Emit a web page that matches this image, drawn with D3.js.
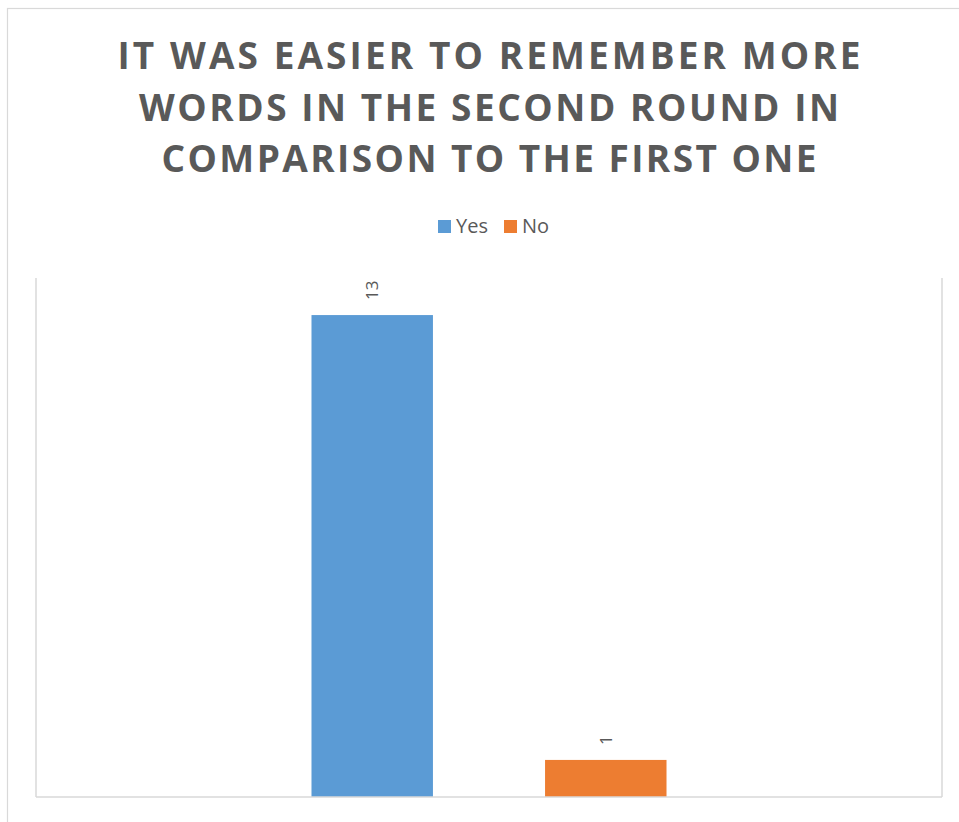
<!DOCTYPE html>
<html>
<head>
<meta charset="utf-8">
<script src="https://cdn.jsdelivr.net/npm/d3@7"></script>
<style>
  html, body { margin: 0; padding: 0; background: #fff; }
  svg { display: block; }
</style>
</head>
<body>
<svg id="chart" width="959" height="822"></svg>
<script>
// Survey answers: one question, two responses
const titleLines = [
  "IT WAS EASIER TO REMEMBER MORE",
  "WORDS IN THE SECOND ROUND IN",
  "COMPARISON TO THE FIRST ONE"
];
const categories = ["Q"];
const seriesNames = ["Yes", "No"];
const seriesValues = [13, 1];
const seriesColors = ["#5B9BD5", "#ED7D31"];
const yDomain = [0, 14];

const svg = d3.select("#chart");
const textColor = "#595959";
const lineColor = "#d9d9d9";
const font = "'Open Sans', 'Liberation Sans', sans-serif";

// outer chart frame (runs off the bottom/right edges)
svg.append("rect")
  .attr("x", 7.5).attr("y", 8.5)
  .attr("width", 960).attr("height", 830)
  .attr("fill", "#fff")
  .attr("stroke", lineColor).attr("stroke-width", 1.2);

// title
const titleWidths = [743, 700, 655];
const titleBase = [69, 121, 172];
svg.append("g").selectAll("text")
  .data(titleLines)
  .join("text")
  .attr("x", 489)
  .attr("y", (d, i) => titleBase[i])
  .attr("text-anchor", "middle")
  .attr("font-family", font)
  .attr("font-weight", 700)
  .attr("font-size", 37)
  .attr("textLength", (d, i) => titleWidths[i])
  .attr("lengthAdjust", "spacing")
  .attr("fill", textColor)
  .text(d => d);

// plot area
const plot = { left: 36, right: 942, top: 278, bottom: 797 };

const y = d3.scaleLinear().domain(yDomain).range([plot.bottom, plot.top]);
const x0 = d3.scaleBand()
  .domain(categories)
  .range([plot.left, plot.right])
  .paddingInner(0)
  .paddingOuter(0.776);
const x1 = d3.scaleBand()
  .domain(seriesNames)
  .range([0, x0.bandwidth()])
  .paddingInner(0.48)
  .paddingOuter(0);
const color = d3.scaleOrdinal().domain(seriesNames).range(seriesColors);

// side borders of plot area
svg.append("line")
  .attr("x1", plot.left).attr("x2", plot.left)
  .attr("y1", plot.top).attr("y2", plot.bottom)
  .attr("stroke", lineColor).attr("stroke-width", 1.5);
svg.append("line")
  .attr("x1", plot.right).attr("x2", plot.right)
  .attr("y1", plot.top).attr("y2", plot.bottom)
  .attr("stroke", lineColor).attr("stroke-width", 1.5);

const rows = seriesNames.map((s, i) => ({ cat: categories[0], series: s, value: seriesValues[i] }));

const g = svg.append("g");
g.selectAll("rect.bar")
  .data(rows)
  .join("rect")
  .attr("class", "bar")
  .attr("x", d => x0(d.cat) + x1(d.series))
  .attr("y", d => y(d.value))
  .attr("width", x1.bandwidth())
  .attr("height", d => y(0) - y(d.value))
  .attr("fill", d => color(d.series));

// value labels, rotated
g.selectAll("text.val")
  .data(rows)
  .join("text")
  .attr("class", "val")
  .attr("transform", d => {
    const cx = x0(d.cat) + x1(d.series) + x1.bandwidth() / 2;
    const cy = y(d.value) - 15;
    return `translate(${cx + 6},${cy}) rotate(-90)`;
  })
  .attr("text-anchor", "start")
  .attr("font-family", font)
  .attr("font-size", 17)
  .attr("fill", textColor)
  .text(d => d.value);

// x axis baseline
svg.append("line")
  .attr("x1", plot.left).attr("x2", plot.right)
  .attr("y1", y(0)).attr("y2", y(0))
  .attr("stroke", lineColor).attr("stroke-width", 1.5);

// legend
const legendItems = [
  { name: seriesNames[0], x: 438 },
  { name: seriesNames[1], x: 504 }
];
const lg = svg.append("g").selectAll("g")
  .data(legendItems)
  .join("g")
  .attr("transform", d => `translate(${d.x},220)`);
lg.append("rect")
  .attr("width", 13).attr("height", 13)
  .attr("fill", d => color(d.name));
lg.append("text")
  .attr("x", 18).attr("y", 13)
  .attr("font-family", font)
  .attr("font-size", 20)
  .attr("fill", textColor)
  .text(d => d.name);
</script>
</body>
</html>
